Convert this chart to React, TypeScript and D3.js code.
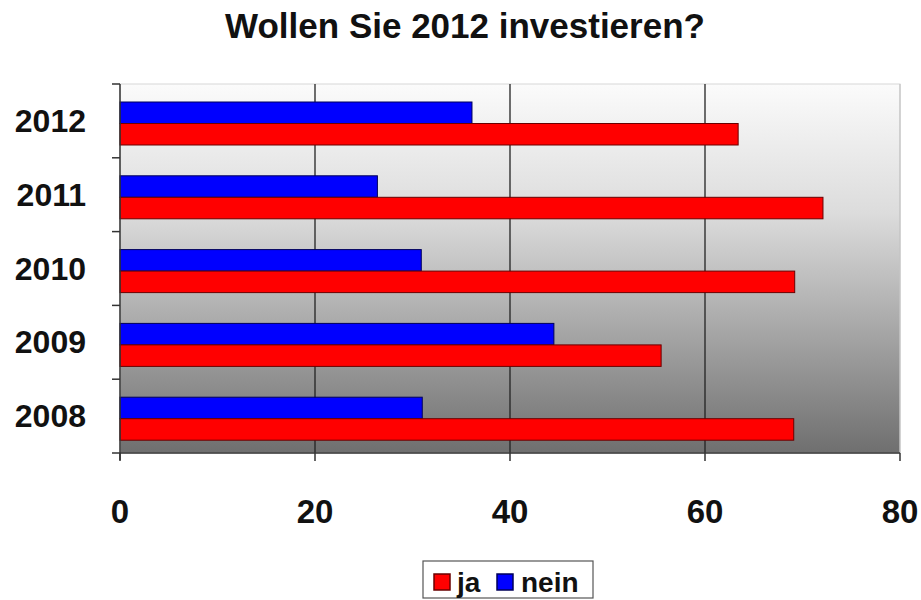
import React from "react";
import * as d3 from "d3";

const years = ["2012", "2011", "2010", "2009", "2008"];
const ja = [63.4, 72.1, 69.2, 55.5, 69.1];
const nein = [36.1, 26.4, 30.9, 44.5, 31.0];
const xTicks = [0, 20, 40, 60, 80];
const title = "Wollen Sie 2012 investieren?";

export default function App() {
  const W = 921, H = 600;
  const left = 120, right = 900, top = 84, bottom = 453;
  const x = d3.scaleLinear().domain([0, 80]).range([left, right]);
  const y = d3.scaleBand().domain(years).range([top, bottom]).paddingInner(0).paddingOuter(0);
  const bw = y.bandwidth();
  const barH = 21.5;
  const offset = 18;
  const font = "'Liberation Sans', Arial, sans-serif";
  return (
    <svg width={W} height={H} style={{ position: "absolute", left: 0, top: 0, background: "#fff" }}>
      <defs>
        <linearGradient id="bg" x1="0" y1="0" x2="0" y2="1">
          <stop offset="0" stopColor="#fbfbfb" />
          <stop offset="0.35" stopColor="#dcdcdc" />
          <stop offset="1" stopColor="#6f6f6f" />
        </linearGradient>
      </defs>
      <text x={465} y={38} textAnchor="middle" fontFamily={font} fontWeight="bold" fontSize={35} fill="#111">{title}</text>
      <rect x={left} y={top} width={right - left} height={bottom - top} fill="url(#bg)" stroke="#d8d8d8" strokeWidth={1} />
      {xTicks.slice(1, -1).map((t) => (
        <line key={t} x1={x(t)} x2={x(t)} y1={top} y2={bottom} stroke="#222" strokeWidth={1.3} />
      ))}
      <line x1={x(80)} x2={x(80)} y1={top} y2={bottom} stroke="#bbb" strokeWidth={1} />
      {years.map((yr, i) => (
        <g key={yr}>
          <rect x={x(0)} y={(y(yr) as number) + offset} width={x(nein[i]) - x(0)} height={barH} fill="#0000ff" stroke="#00005a" strokeWidth={1} />
          <rect x={x(0)} y={(y(yr) as number) + offset + barH} width={x(ja[i]) - x(0)} height={barH} fill="#ff0000" stroke="#6a0000" strokeWidth={1} />
          <text x={86} y={(y(yr) as number) + bw / 2 + 11} textAnchor="end" fontFamily={font} fontWeight="bold" fontSize={32} fill="#111">{yr}</text>
        </g>
      ))}
      <line x1={left} x2={left} y1={top} y2={bottom + 7} stroke="#333" strokeWidth={1.5} />
      <line x1={left} x2={right} y1={bottom} y2={bottom} stroke="#333" strokeWidth={1.5} />
      {[...years.map((yr) => y(yr) as number), bottom].map((v, i) => (
        <line key={i} x1={left - 8} x2={left} y1={v} y2={v} stroke="#333" strokeWidth={1.5} />
      ))}
      {xTicks.map((t) => (
        <g key={t}>
          <line x1={x(t)} x2={x(t)} y1={bottom} y2={bottom + 8} stroke="#333" strokeWidth={1.5} />
          <text x={x(t)} y={523} textAnchor="middle" fontFamily={font} fontWeight="bold" fontSize={33} fill="#111">{t}</text>
        </g>
      ))}
      <rect x={423} y={561} width={170} height={37} fill="#fff" stroke="#555" strokeWidth={1.2} />
      <rect x={434} y={574} width={16} height={16} fill="#ff0000" stroke="#6a0000" strokeWidth={1.5} />
      <text x={457} y={592} fontFamily={font} fontWeight="bold" fontSize={28} fill="#111">ja</text>
      <rect x={497} y={574} width={16} height={16} fill="#0000ff" stroke="#00005a" strokeWidth={1.5} />
      <text x={521} y={592} fontFamily={font} fontWeight="bold" fontSize={28} fill="#111">nein</text>
    </svg>
  );
}
